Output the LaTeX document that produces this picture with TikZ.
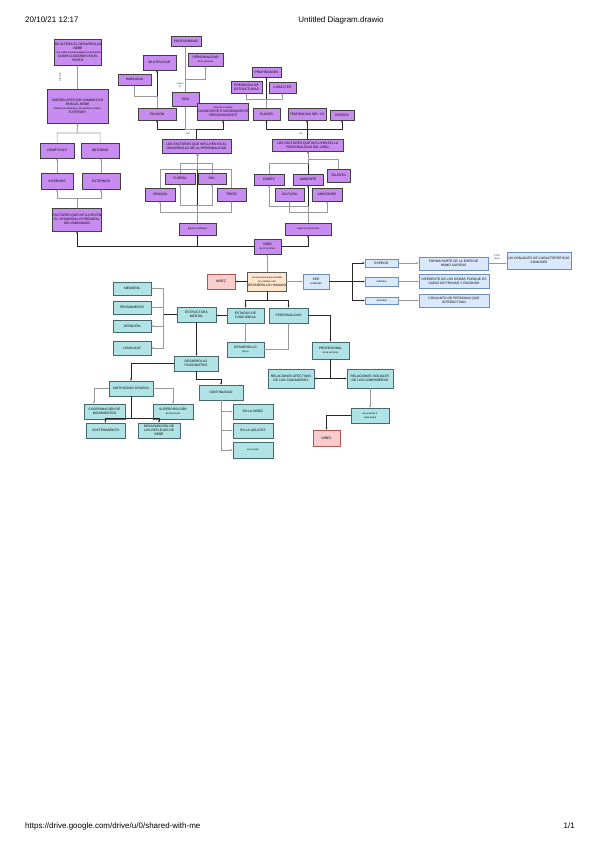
\documentclass[tikz,border=0pt]{standalone}
\usepackage{fontspec}
\setmainfont{Liberation Sans}
\usetikzlibrary{arrows.meta,shadows}
\definecolor{pur}{RGB}{200,140,240}
\definecolor{tea}{RGB}{176,227,230}
\definecolor{teab}{RGB}{70,105,110}
\definecolor{blu}{RGB}{218,232,252}
\definecolor{blub}{RGB}{108,142,191}
\definecolor{pnk}{RGB}{248,206,204}
\definecolor{pnkb}{RGB}{184,84,80}
\definecolor{bei}{RGB}{255,230,204}
\newcommand\sm[1]{{\fontsize{2.5}{3}\selectfont #1}}
\newcommand\bx[7]{\node[#1, minimum width={#4pt-#2pt}, minimum height={#5pt-#3pt}] (#6) at ({(#2+#4)/2},{(#3+#5)/2}) {#7};}
\begin{document}
\begin{tikzpicture}[x=1pt,y=-1pt,
  bxs/.style={draw, line width=0.6pt, align=center, inner sep=0.3pt, outer sep=0pt,
    font=\fontsize{3.3}{4}\selectfont,
    drop shadow={shadow xshift=0.7pt, shadow yshift=-0.7pt, fill=black!45}},
  pbox/.style={bxs, fill=pur, draw=black!75},
  tbox/.style={bxs, fill=tea, draw=teab},
  bbox/.style={bxs, fill=blu, draw=blub},
  kbox/.style={bxs, fill=pnk, draw=pnkb},
  ybox/.style={bxs, fill=bei, draw=black!65},
  ar/.style={-{Latex[length=2.4pt,width=2pt]}},
  dk/.style={draw=black!85, line width=0.55pt},
  gy/.style={draw=black!40, line width=0.5pt},
  lbl/.style={font=\fontsize{2.6}{3}\selectfont, inner sep=0.3pt, align=center, text=black!70},
  hdr/.style={font=\fontsize{8}{9.6}\selectfont, inner sep=0pt}]
\useasboundingbox (0,0) rectangle (599,848);
\fill[white] (0,0) rectangle (599,848);

% header / footer
\node[hdr, anchor=west] (hd1) at (25,20) {20/10/21 12:17};
\node[hdr] (hd2) at (341,20) {Untitled Diagram.drawio};
\node[hdr, anchor=west] (ft1) at (25,826) {https://drive.google.com/drive/u/0/shared-with-me};
\node[hdr, anchor=east] (ft2) at (575,826) {1/1};

% ---------- left column ----------
\bx{pbox}{55}{39}{101}{65}{A}{SE ALTERA EL DESARROLLO\\BEBÉ\\\sm{si la madre presenta alguna enfermedad}\\COMPLICACIONES EN EL\\PARTO}
\bx{pbox}{47}{89}{108}{123}{B}{PUEDEN AFECTAR CAMBIOS EN\\PARA EL BEBÉ\\\sm{durante el embarazo y los primeros meses}\\EXTERIOR}
\bx{pbox}{40}{143}{74}{158}{C1}{GENÉTICOS}
\bx{pbox}{81}{143}{119}{158}{C2}{ENTORNO}
\bx{pbox}{41}{173}{73}{189}{D1}{INTERNOS}
\bx{pbox}{82}{173}{120}{189}{D2}{EXTERNOS}
\bx{pbox}{54}{208}{100}{231}{E}{FACTORES QUE INFLUYEN EN\\EL DESARROLLO PRENATAL\\DEL EMBARAZO}

% ---------- middle-top ----------
\bx{pbox}{171}{36}{201}{46}{PROF}{PROFUNDIDAD}
\bx{pbox}{143}{55}{176}{70}{MORAL}{MULTIPLICAR}
\bx{pbox}{188}{53}{223}{66}{PERS}{PERSONALIDAD\\\sm{de la persona}}
\bx{pbox}{118}{74}{151}{85}{HAB}{HABILIDAD}
\bx{pbox}{172}{92}{199}{106}{YO}{EGO}
\bx{pbox}{138}{108}{176}{120}{SUP}{PULSIÓN}
\bx{pbox}{200}{103}{246}{120}{CONS}{\sm{nivel de la mente}\\CONSCIENTE E INCONSCIENTE\\PRECONSCIENTE}
\bx{pbox}{162}{139}{231}{153}{LF1}{LOS FACTORES QUE INFLUYEN EN EL\\DESARROLLO DE LA PERSONALIDAD}
\bx{pbox}{165}{173}{195}{184}{R1a}{FUERZA}
\bx{pbox}{198}{173}{226}{184}{R1b}{ROL}
\bx{pbox}{145}{188}{175}{201}{R2a}{CRIANZA}
\bx{pbox}{217}{188}{246}{201}{R2b}{TRATO}
\bx{pbox}{179}{223}{216}{235}{G}{\sm{aspecto biológico}}

% ---------- right-top ----------
\bx{pbox}{252}{67}{281}{77}{PROP}{PROPIEDADES}
\bx{pbox}{231}{81}{262}{93}{PA}{PRESENCIA DE\\ESTRUCTURAS}
\bx{pbox}{269}{82}{296}{93}{PB}{CARÁCTER}
\bx{pbox}{253}{108}{280}{120}{PL}{PLACER}
\bx{pbox}{288}{108}{326}{120}{TE}{TENDENCIAS DEL YO}
\bx{pbox}{330}{110}{354}{120}{DE}{DESEOS}
\bx{pbox}{272}{139}{343}{151}{LF2}{LOS FACTORES QUE INFLUYEN EN LA\\PERSONALIDAD DEL NIÑO}
\bx{pbox}{254}{174}{284}{185}{E1}{GENES}
\bx{pbox}{293}{174}{323}{185}{E2}{AMBIENTE}
\bx{pbox}{327}{169}{350}{182}{E3}{TALENTO}
\bx{pbox}{275}{188}{304}{201}{F1}{CULTURA}
\bx{pbox}{312}{188}{342}{201}{F2}{AMISTADES}
\bx{pbox}{285}{223}{331}{235}{H}{\sm{aspecto psicosocial}}

% ---------- centre ----------
\bx{pbox}{254}{239}{281}{254}{N}{NIÑO\\\sm{de 0 a 6 años}}
\bx{ybox}{250}{272}{284}{291}{BG}{\sm{es una ciencia que estudia}\\\sm{los cambios del}\\DESARROLLO HUMANO}
\bx{kbox}{207}{274}{235}{289}{PK1}{NIÑEZ}
\bx{bbox}{303}{274}{329}{289}{BL}{SER\\\sm{HUMANO}}

% ---------- blue ----------
\bx{bbox}{365}{259}{398}{267}{S1}{ESPECIE}
\bx{bbox}{365}{277}{398}{286}{S2}{\sm{individuo}}
\bx{bbox}{365}{297}{398}{304}{S3}{\sm{sociedad}}
\bx{bbox}{419}{257}{488}{270}{T1}{FORMA PARTE DE LA ESPECIE\\HOMO SAPIENS}
\bx{bbox}{419}{274}{489}{288}{T2}{DIFERENTE DE LOS DEMÁS PORQUE ES\\CAPAZ DE PENSAR Y RAZONAR}
\bx{bbox}{419}{294}{489}{307}{T3}{CONJUNTO DE PERSONAS QUE\\INTERACTÚAN}
\bx{bbox}{507}{252}{571}{269}{FR}{UN CONJUNTO DE CARACTERÍSTICAS\\COMUNES}

% ---------- teal ----------
\bx{tbox}{227}{308}{264}{323}{ES}{ESTADOS DE\\CONCIENCIA}
\bx{tbox}{269}{308}{308}{323}{RE}{PERSONALIDAD}
\bx{tbox}{177}{307}{216}{322}{EM}{ESTRUCTURA\\MENTAL}
\bx{tbox}{113}{282}{151}{295}{M1}{MEMORIA}
\bx{tbox}{113}{301}{151}{314}{M2}{PENSAMIENTO}
\bx{tbox}{113}{320}{151}{332}{M3}{ATENCIÓN}
\bx{tbox}{113}{341}{151}{355}{M4}{LENGUAJE}
\bx{tbox}{227}{342}{264}{357}{DS}{DESARROLLO\\\sm{del yo}}
\bx{tbox}{312}{342}{349}{359}{PR}{PROFESIONAL\\\sm{de la persona}}
\bx{tbox}{268}{369}{314}{388}{RL}{RELACIONES AFECTIVAS\\DE LOS CUIDADORES}
\bx{tbox}{347}{369}{393}{388}{RR}{RELACIONES SOCIALES\\DE LOS COMPAÑEROS}
\bx{tbox}{351}{408}{389}{423}{LW}{\sm{de acuerdo a}\\\sm{cada etapa}}
\bx{kbox}{313}{430}{340}{446}{PK2}{NIÑEZ}
\bx{tbox}{174}{356}{218}{371}{DP}{DESARROLLO\\PSICOMOTRIZ}
\bx{tbox}{109}{381}{153}{396}{MO}{MOTRICIDAD GRUESA}
\bx{tbox}{199}{385}{243}{400}{CO}{CONTINUIDAD}
\bx{tbox}{84}{404}{125}{419}{X1}{COORDINACIÓN DE\\MOVIMIENTOS}
\bx{tbox}{86}{423}{125}{438}{X2}{SOSTENIMIENTO}
\bx{tbox}{153}{404}{193}{419}{SP}{SUPERPOSICIÓN\\\sm{de funciones}}
\bx{tbox}{138}{423}{180}{438}{DL}{DESAPARICIÓN DE\\LOS REFLEJOS DE\\BEBÉ}
\bx{tbox}{233}{404}{273}{419}{CB1}{EN LA NIÑEZ}
\bx{tbox}{233}{423}{273}{438}{CB2}{EN LA ADULTEZ}
\bx{tbox}{233}{442}{273}{458}{CB3}{\sm{en la vejez}}

% ================= connectors =================
% left column
\draw[gy,ar] (B.north) -- (B.north |- A.south);
\node[lbl, rotate=90] (afl) at (60,77) {afectan};
\coordinate (ej) at (77,198);
\draw[gy,ar] (E.north) -- (ej) -| (D1.south);
\draw[gy,ar] (E.north) -- (ej) -| (D2.south);
\draw[gy,ar] (D1.north) -- (D1.north |- C1.south);
\draw[gy,ar] (D2.north) -- (D2.north |- C2.south);
\coordinate (bj) at (77,133);
\draw[gy,ar] (C1.north) |- (bj) -- (B.south);
\draw[gy,ar] (C2.north) |- (bj) -- (B.south);

% centre node links
\draw[dk,ar] (N.west) -| (E.south);
\draw[dk,ar] (N.west) -| (G.south);
\draw[dk,ar] (N.east) -| (H.south);
\draw[gy,ar] (BG.north) -- (BG.north |- N.south);

% middle group
\draw[dk,ar] (G.north) -- (G.north |- LF1.south);
\coordinate (g1) at (197.5,212);
\coordinate (g2) at (197.5,205);
\draw[gy,ar] (G.north) -- (g1) -| (R2a.south);
\draw[gy,ar] (G.north) -- (g1) -| (R2b.south);
\draw[gy,ar] (G.north) -- (g2) -| (R1a.south);
\draw[gy,ar] (G.north) -- (g2) -| (R1b.south);
\coordinate (l1) at (197.5,163);
\coordinate (l2) at (197.5,169);
\draw[gy,ar] (R1a.north) |- (l1) -- (l1 |- LF1.south);
\draw[gy,ar] (R1b.north) |- (l1) -- (l1 |- LF1.south);
\draw[gy,ar] (R2a.north) |- (l2) -- (l2 |- LF1.south);
\draw[gy,ar] (R2b.north) |- (l2) -- (l2 |- LF1.south);

% middle top
\coordinate (t1) at (196.5,129);
\draw[dk,ar] (LF1.north) -- (t1) -| (SUP.south);
\draw[gy,ar] (LF1.north) -- (t1) -| (YO.south);
\draw[dk,ar] (LF1.north) -- (t1) -| (CONS.south);
\node[lbl] (son1) at (188,134) {son};
\draw[dk,ar] (SUP.north) -- (SUP.north |- MORAL.south);
\coordinate (h1) at (157,96);
\draw[gy,ar] (SUP.north) -- (h1) -| (HAB.south);
\draw[gy,ar] (YO.north) -- (YO.north |- PROF.south);
\coordinate (y1) at (185.5,79);
\draw[gy,ar] (YO.north) -- (y1) -| (PERS.south);
\node[lbl, fill=white] (lab1) at (180,85) {según\\la};

% right top
\coordinate (t2) at (307.5,129);
\draw[dk,ar] (LF2.north) -- (t2) -| (PL.south);
\draw[dk,ar] (LF2.north) -- (t2) -| (TE.south);
\draw[dk,ar] (LF2.north) -- (t2) -| (DE.south);
\node[lbl] (son2) at (301,134) {son};
\draw[dk,ar] (PL.north) -- (PL.north |- PROP.south);
\coordinate (p1) at (266.5,99);
\draw[gy,ar] (PL.north) -- (p1) -| (PA.south);
\draw[gy,ar] (PL.north) -- (p1) -| (PB.south);

% right group
\draw[dk,ar] (H.north) -- (H.north |- E2.south);
\draw[dk,ar] (E2.north) -- (E2.north |- LF2.south);
\coordinate (hj1) at (308,212);
\coordinate (hj2) at (308,206);
\draw[gy,ar] (H.north) -- (hj1) -| (F1.south);
\draw[gy,ar] (H.north) -- (hj1) -| (F2.south);
\draw[gy,ar] (H.north) -- (hj2) -| (E1.south);
\coordinate (e1) at (308,163);
\coordinate (e3) at (308,159);
\draw[gy,ar] (E1.north) |- (e1) -- (e1 |- LF2.south);
\draw[gy,ar] (E3.north) |- (e3) -- (e3 |- LF2.south);

% beige / blue
\draw[gy,ar] (BG.east) -- (BL.west);
\draw[dk,ar] (BG.west) -- (PK1.east);
\coordinate (bj1) at (352,281.5);
\draw[dk,ar] (BL.east) -- (bj1) |- (S1.west);
\draw[dk,ar] (BL.east) -- (S2.west);
\draw[dk,ar] (BL.east) -- (bj1) |- (S3.west);
\draw[gy,ar] (S1.east) -- (S1.east -| T1.west);
\draw[gy,ar] (S2.east) -- (S2.east -| T2.west);
\draw[gy,ar] (S3.east) -- (S3.east -| T3.west);
\draw[gy,ar] (T1.east) -- (T1.east -| FR.west);
\node[lbl] (por) at (497,257) {POR\\tener};

% teal
\coordinate (bg1) at (267,300);
\draw[dk,ar] (BG.south) -- (bg1) -| (ES.north);
\draw[dk,ar] (BG.south) -- (bg1) -| (RE.north);
\draw[dk,ar] (ES.west) -- (ES.west -| EM.east);
\coordinate (em1) at (163,314.5);
\draw[dk] (EM.west) -- (em1);
\draw[gy,ar] (em1) |- (M1.east);
\draw[gy,ar] (em1) |- (M2.east);
\draw[gy,ar] (em1) |- (M3.east);
\draw[gy,ar] (em1) |- (M4.east);
\draw[dk,ar] (EM.south) -- (EM.south |- DP.north);
\draw[gy,ar] (ES.south) -- (ES.south |- DS.north);
\draw[gy,ar] (DS.east) -| (RE.south);
\draw[dk,ar] (RE.east) -| (PR.north);
\draw[dk,ar] (PR.south) |- (RL.east);
\draw[dk,ar] (PR.south) |- (RR.west);
\draw[gy,ar] (RR.south) -- (RR.south |- LW.north);
\draw[dk,ar] (LW.west) -| (PK2.north);
\draw[dk,ar] (DP.west) -| (MO.north);
\coordinate (dp1) at (196,379);
\draw[dk,ar] (DP.south) -- (dp1) -| (CO.north);
\coordinate (mo1) at (94,388.5);
\draw[gy,ar] (MO.west) -- (mo1) -- (mo1 |- X1.north);
\draw[gy,ar] (MO.east) -| (SP.north);
\coordinate (mo2) at (131,418);
\draw[dk,ar] (MO.south) -- (mo2) -| (X2.north);
\draw[dk,ar] (MO.south) -- (mo2) -| (DL.north);
\draw[gy,ar] (CO.south) |- (CB1.west);
\draw[gy,ar] (CO.south) |- (CB2.west);
\draw[gy,ar] (CO.south) |- (CB3.west);
\end{tikzpicture}
\end{document}
